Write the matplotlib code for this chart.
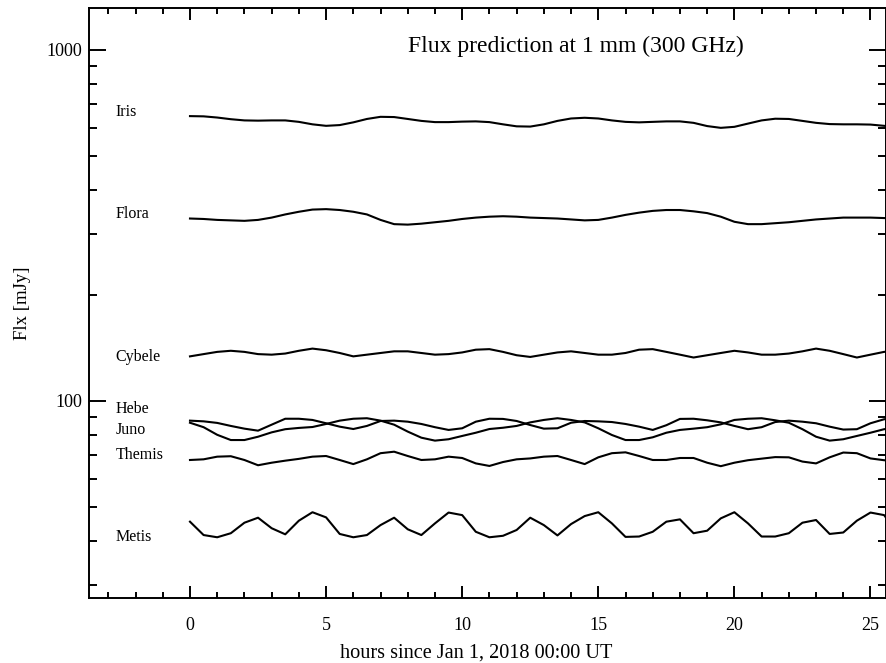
import numpy as np
import matplotlib
matplotlib.use("Agg")
import matplotlib.pyplot as plt
from matplotlib.ticker import MultipleLocator, LogLocator, FixedFormatter, NullFormatter, FixedLocator

plt.rcParams['font.family'] = ['Liberation Serif', 'DejaVu Serif']

# sample times (hours since Jan 1, 2018 00:00 UT), every 0.5 h
hours = np.arange(0, 26.01, 0.5)

iris = [648, 647, 642, 635, 630, 629, 630, 630, 624, 614, 608, 611, 622, 636, 645, 644,
        636, 628, 623, 623, 625, 626, 623, 614, 606, 605, 614, 628, 638, 641, 638, 630,
        624, 622, 624, 626, 626, 620, 607, 600, 604, 617, 630, 637, 636, 628, 620, 615,
        614, 614, 613, 608, 604]

flora = [331, 330, 328, 327, 326, 328, 333, 340, 346, 351, 352, 350, 346, 340, 328, 319,
         318, 320, 323, 326, 330, 333, 335, 336, 335, 333, 332, 331, 329, 327, 328, 333,
         339, 344, 348, 350, 350, 347, 343, 335, 324, 319, 319, 321, 323, 326, 329, 331,
         333, 333, 333, 332, 331]

cybele = [134, 136, 138, 139, 138, 136, 135.5, 136.5, 139, 141, 139.5, 137, 134, 135.5,
          137, 138.5, 138.5, 137, 135.5, 136, 137.5, 140, 140.5, 138, 135, 133.5, 135.5,
          137.5, 138.5, 137, 135.5, 135.5, 137, 140, 140.5, 138, 135.5, 133, 135, 137, 139,
          137.5, 135.5, 135.5, 136.5, 138.5, 141, 139, 136, 133, 135.5, 138, 139]

hebe = [87.9, 87.5, 86.6, 84.9, 83.4, 82.3, 85.6, 89.0, 89.0, 88.3, 86.4, 84.5, 83.2, 84.9,
        87.7, 87.9, 87.3, 86.0, 84.2, 82.7, 83.6, 87.3, 89.0, 88.9, 87.7, 85.4, 83.4, 83.6,
        86.7, 87.7, 87.5, 87.1, 86.0, 84.5, 82.7, 85.3, 88.9, 89.0, 88.1, 86.9, 84.9, 83.1,
        84.2, 87.1, 87.9, 87.3, 86.4, 84.5, 82.9, 83.1, 86.4, 88.7, 89.4]

juno = [86.7, 84.2, 80.1, 77.4, 77.4, 79.1, 81.4, 83.1, 83.8, 84.3, 86.0, 87.9, 89.0, 89.3,
        87.9, 85.6, 81.8, 78.6, 77.1, 77.8, 79.5, 81.2, 83.2, 83.9, 84.9, 86.9, 88.3, 89.3,
        88.3, 86.9, 83.6, 80.0, 77.4, 77.4, 78.8, 81.2, 82.7, 83.4, 84.2, 85.8, 88.3, 89.0,
        89.3, 88.1, 86.7, 83.1, 79.1, 77.1, 77.8, 79.5, 81.2, 83.1, 83.9]

themis = [67.9, 68.2, 69.4, 69.6, 67.9, 65.6, 66.7, 67.6, 68.4, 69.4, 69.7, 67.9, 66.1, 68.2,
          71.0, 71.7, 69.7, 67.9, 68.2, 69.4, 68.8, 66.4, 65.3, 67.0, 68.2, 68.6, 69.4, 69.7,
          67.9, 66.1, 69.1, 71.0, 71.4, 69.7, 67.9, 67.9, 68.8, 68.8, 66.7, 65.2, 66.7, 67.8,
          68.5, 69.2, 69.1, 67.2, 66.4, 69.1, 71.3, 71.0, 68.6, 67.8, 67.3]

metis = [45.3, 41.5, 40.9, 42.0, 45.0, 46.5, 43.4, 41.7, 45.6, 48.2, 46.6, 41.8, 40.9, 41.5,
         44.3, 46.5, 43.1, 41.5, 44.8, 48.1, 47.3, 42.4, 40.9, 41.3, 42.9, 46.5, 44.3, 41.4,
         44.6, 47.0, 48.2, 44.8, 41.0, 41.1, 42.4, 45.3, 46.0, 42.0, 42.7, 46.3, 48.2, 44.8,
         41.1, 41.1, 42.0, 45.0, 45.8, 41.8, 42.2, 45.6, 48.1, 47.3, 42.0]

names = ["Iris", "Flora", "Cybele", "Hebe", "Juno", "Themis", "Metis"]
series = [iris, flora, cybele, hebe, juno, themis, metis]

title = "Flux prediction at 1 mm (300 GHz)"
xlabel = "hours since Jan 1, 2018 00:00 UT"
ylabel = "Flx [mJy]"

W, H = 887, 663
fig = plt.figure(figsize=(W / 100, H / 100), dpi=100)
ax = fig.add_axes([89 / W, 1 - 598 / H, (886 - 89) / W, (598 - 8) / H])

for vals in series:
    ax.plot(hours, vals, color='black', lw=1.5, solid_joinstyle='round')

ax.set_yscale('log')
ax.set_xlim(-3.71, 25.57)
ax.set_ylim(27.46, 1317)

# name labels placed to the left of each curve (pixel rows converted to data values)
label_rows = [111.7, 214, 356.7, 409, 430, 455.3, 536.7]
for name, row in zip(names, label_rows):
    yv = 10 ** (2 + (401 - row) / 351)
    ax.text(-2.74, yv, name, fontsize=11.5, va='center', ha='left')

ax.text((408 - 89) / (886 - 89), (598 - 46) / 590, title, transform=ax.transAxes,
        fontsize=17, va='center', ha='left')

ax.xaxis.set_major_locator(MultipleLocator(5))
ax.xaxis.set_minor_locator(MultipleLocator(1))
ax.yaxis.set_major_locator(FixedLocator([100, 1000]))
ax.yaxis.set_major_formatter(FixedFormatter(["100", "1000"]))
ax.yaxis.set_minor_locator(LogLocator(base=10, subs=np.arange(2, 10)))
ax.yaxis.set_minor_formatter(NullFormatter())

ax.tick_params(axis='x', which='major', direction='in', length=8.6, width=1.4,
               top=True, bottom=True, labelsize=13, pad=14)
ax.tick_params(axis='x', which='minor', direction='in', length=4.3, width=1.4,
               top=True, bottom=True)
ax.tick_params(axis='y', which='major', direction='in', length=12, width=1.4,
               left=True, right=True, labelsize=13, pad=5)
ax.tick_params(axis='y', which='minor', direction='in', length=5.5, width=1.4,
               left=True, right=True)
for s in ax.spines.values():
    s.set_linewidth(1.4)

ax.set_xlabel(xlabel, fontsize=14.6, labelpad=6)
ax.xaxis.set_label_coords((476 - 89) / (886 - 89), -0.077)
ax.set_ylabel(ylabel, fontsize=13.5, labelpad=11)

fig.savefig("out.png", dpi=100)
